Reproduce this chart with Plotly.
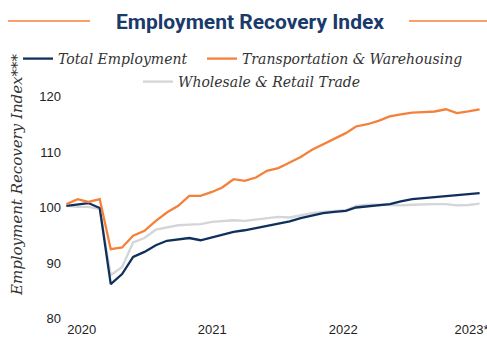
import pandas as pd
import plotly.graph_objects as go

months = pd.date_range("2020-01-01", periods=38, freq="MS")

total_employment = [100.3, 100.6, 100.8, 99.9, 86.2, 88.0, 91.1, 92.0, 93.2, 94.0,
                    94.3, 94.5, 94.1, 94.6, 95.0, 95.6, 95.9, 96.3, 96.7, 97.0,
                    97.5, 98.1, 98.6, 99.0, 99.2, 99.4, 100.0, 100.2, 100.4, 100.6,
                    101.1, 101.5, 101.7, 101.9, 102.1, 102.3, 102.4, 102.6]
transport_warehousing = [100.6, 101.5, 101.0, 101.5, 92.5, 92.8, 94.9, 95.8, 97.6, 99.1,
                         100.3, 102.1, 102.1, 102.8, 103.6, 105.1, 104.8, 105.4, 106.6, 107.1,
                         108.1, 109.1, 110.4, 111.4, 112.3, 113.4, 114.6, 115.0, 115.6, 116.4,
                         116.8, 117.1, 117.2, 117.3, 117.7, 117.0, 117.3, 117.7]
wholesale_retail = [100.3, 100.1, 100.1, 99.7, 87.8, 89.3, 93.7, 94.5, 96.0, 96.4,
                    96.8, 96.9, 97.0, 97.4, 97.6, 97.7, 97.6, 97.8, 98.1, 98.3,
                    98.2, 98.6, 99.0, 99.2, 99.4, 99.5, 100.3, 100.5, 100.5, 100.45,
                    100.4, 100.5, 100.6, 100.6, 100.6, 100.4, 100.45, 100.7]

x_tick_labels = ["2020", "2021", "2022", "2023*"]
x_tick_dates = ["2020-02-12", "2021-02-02", "2022-01-25", "2023-01-10"]
y_ticks = [80, 90, 100, 110, 120]

NAVY = "#10305c"
ORANGE = "#f5803a"
GRAY = "#d3d5d8"
SERIF = "DejaVu Serif"

L, R, T, B = 66, 7, 90, 17
W, H = 487, 337
pw, ph = W - L - R, H - T - B


def px_x(p):
    return (p - L) / pw


def px_y(p):
    return (H - B - p) / ph


fig = go.Figure()
fig.add_trace(go.Scatter(x=months, y=wholesale_retail, name="Wholesale & Retail Trade",
                         mode="lines", line=dict(color=GRAY, width=2.3), legend="legend3"))
fig.add_trace(go.Scatter(x=months, y=total_employment, name="Total Employment",
                         mode="lines", line=dict(color=NAVY, width=2.3), legend="legend"))
fig.add_trace(go.Scatter(x=months, y=transport_warehousing, name="Transportation & Warehousing",
                         mode="lines", line=dict(color=ORANGE, width=2.3), legend="legend2"))

legend_font = dict(family=SERIF, size=14, color="#333333", style="italic")


def legend_at(px, py):
    return dict(orientation="h", x=px_x(px), xanchor="left", y=px_y(py), yanchor="middle",
                font=legend_font, bgcolor="rgba(0,0,0,0)")


fig.update_layout(
    width=W, height=H,
    margin=dict(l=L, r=R, t=T, b=B),
    paper_bgcolor="white", plot_bgcolor="white",
    title=dict(text="<b>Employment Recovery Index</b>", x=250 / W, xref="container",
               xanchor="center", y=1 - 22 / H, yref="container", yanchor="middle",
               font=dict(family="Roboto", size=21, color="#1a3a6b")),
    legend=legend_at(18, 59),
    legend2=legend_at(202, 59),
    legend3=legend_at(138, 82),
    xaxis=dict(range=[months[0] - pd.Timedelta(days=1), months[-1] + pd.Timedelta(days=1)],
               showgrid=False, zeroline=False, showline=False, ticks="",
               tickvals=x_tick_dates, ticktext=x_tick_labels, automargin=False,
               ticklabeloverflow="allow",
               tickfont=dict(family="Liberation Sans", size=13, color="#222222")),
    yaxis=dict(range=[100 - (H - B - 207.5) / 5.55, 100 + (207.5 - T) / 5.55],
               showgrid=False, zeroline=False, showline=False, ticks="",
               tickvals=y_ticks, ticktext=[str(v) for v in y_ticks], automargin=False,
               ticklabelstandoff=4,
               tickfont=dict(family="Liberation Sans", size=13, color="#222222")),
    showlegend=True,
)

fig.add_annotation(text="Employment Recovery Index***", xref="paper", yref="paper",
                   x=px_x(17), y=px_y(175), textangle=-90, showarrow=False,
                   xanchor="center", yanchor="middle",
                   font=dict(family=SERIF, size=15, color="#333333", style="italic"))

for x0, x1 in [(8, 90), (409, 487)]:
    fig.add_shape(type="line", xref="paper", yref="paper",
                  x0=px_x(x0), x1=px_x(x1), y0=px_y(21), y1=px_y(21),
                  line=dict(color=ORANGE, width=1.5))

fig.write_html("out.html")
